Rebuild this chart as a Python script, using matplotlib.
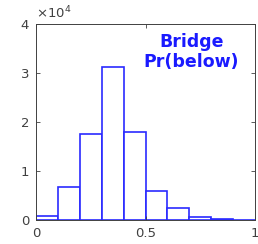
import matplotlib
matplotlib.use('Agg')
import matplotlib.pyplot as plt
import numpy as np

# histogram bins and counts
bin_edges = [0.0, 0.1, 0.2, 0.3, 0.4, 0.5, 0.6, 0.7, 0.8, 0.9, 1.0]
counts = [900, 6700, 17500, 31200, 18000, 5900, 2400, 700, 270, 100]
x_ticks = [0, 0.5, 1]
x_tick_labels = ['0', '0.5', '1']
y_ticks = [0, 10000, 20000, 30000, 40000]
y_tick_labels = ['0', '1', '2', '3', '4']

fig = plt.figure(figsize=(2.58, 2.44), dpi=100)
ax = fig.add_axes([36 / 258, 24 / 244, 219 / 258, 196 / 244])

widths = np.diff(bin_edges)
ax.bar(bin_edges[:-1], counts, width=widths, align='edge', facecolor='white',
       edgecolor='#2a2aff', linewidth=1.2)

ax.set_xlim(0, 1)
ax.set_ylim(0, 40000)
ax.set_xticks(x_ticks, x_tick_labels)
ax.set_yticks(y_ticks, y_tick_labels)
ax.tick_params(direction='in', length=3, width=0.6, colors='#404040', labelsize=9.5,
               top=True, right=True, pad=5)
for s in ax.spines.values():
    s.set_color('#404040')
    s.set_linewidth(0.7)

ax.text(0.0, 1.015, r'$\times10^4$', transform=ax.transAxes, fontsize=9.5,
        color='#404040', ha='left', va='bottom')
ax.text(0.71, 0.955, 'Bridge\nPr(below)', transform=ax.transAxes, fontsize=12.5,
        fontweight='bold', color='#1a1aff', ha='center', va='top', linespacing=1.15)

fig.savefig('out.png', dpi=100)
